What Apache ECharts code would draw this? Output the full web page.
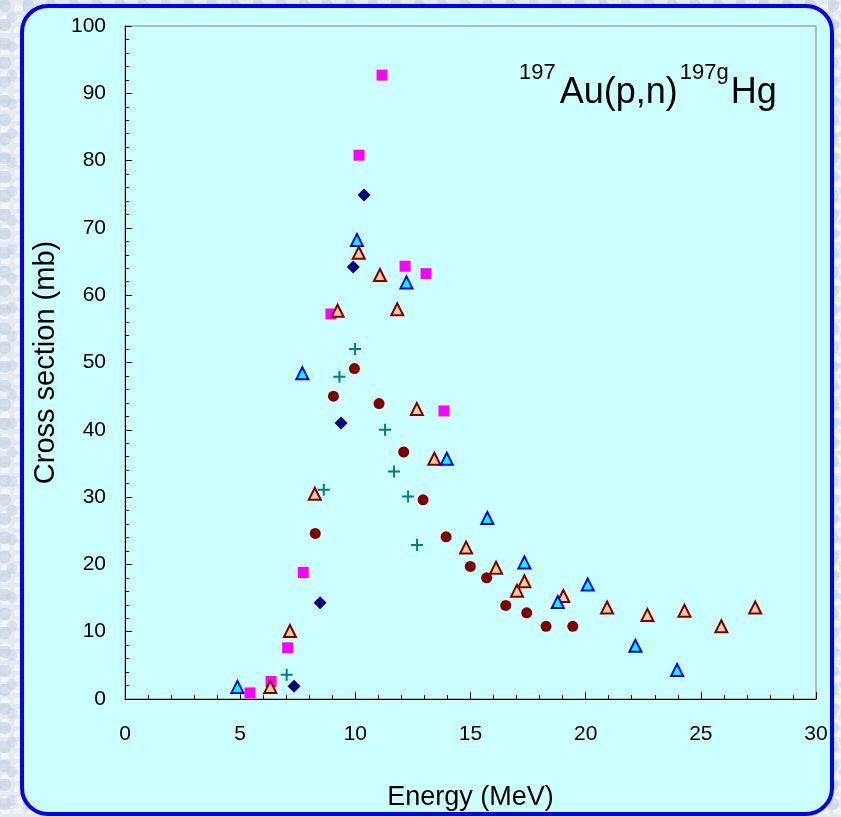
<!DOCTYPE html>
<html>
<head>
<meta charset="utf-8">
<script src="https://cdn.jsdelivr.net/npm/echarts@6/dist/echarts.min.js"></script>
<style>
  html, body { margin: 0; padding: 0; }
  body {
    width: 841px; height: 817px; overflow: hidden;
    background-color: #e3eaf2;
    background-image:
      radial-gradient(circle at 20% 30%, rgba(190,205,222,0.55) 0 6px, transparent 7px),
      radial-gradient(circle at 70% 60%, rgba(200,212,228,0.5) 0 5px, transparent 6px),
      radial-gradient(circle at 40% 80%, rgba(245,248,252,0.8) 0 4px, transparent 5px);
    background-size: 23px 19px, 17px 29px, 13px 11px;
  }
  #chart { width: 841px; height: 817px; }
</style>
</head>
<body>
<div id="chart"></div>
<script>
// Energy (MeV) / cross section (mb) pairs, one list per measurement set
const squareEnergy = [5.43, 6.34, 7.06, 7.74, 8.94, 10.16, 11.16, 12.16, 13.07, 13.85];
const squareXs     = [0.9, 2.6, 7.6, 18.8, 57.2, 80.8, 92.7, 64.3, 63.2, 42.8];

const diamondEnergy = [7.34, 8.47, 9.38, 9.91, 10.38];
const diamondXs     = [1.9, 14.3, 41.0, 64.2, 74.9];

const plusEnergy = [7.02, 8.63, 9.31, 9.99, 11.29, 11.68, 12.29, 12.68];
const plusXs     = [3.6, 31.1, 47.9, 52.0, 40.0, 33.8, 30.1, 22.9];

const circleEnergy = [8.26, 9.05, 9.96, 11.03, 12.10, 12.94, 13.94, 14.99, 15.70, 16.53, 17.44, 18.28, 19.44];
const circleXs     = [24.6, 45.0, 49.1, 43.9, 36.7, 29.6, 24.1, 19.7, 18.0, 13.9, 12.8, 10.8, 10.8];

const orangeTriEnergy = [6.31, 7.16, 8.24, 9.23, 10.15, 11.07, 11.82, 12.67, 13.43, 14.81, 16.11, 17.02, 17.34, 19.03, 20.93, 22.68, 24.29, 25.89, 27.36];
const orangeTriXs     = [1.8, 10.1, 30.5, 57.7, 66.3, 63.0, 57.9, 43.1, 35.7, 22.5, 19.5, 16.1, 17.5, 15.3, 13.6, 12.5, 13.1, 10.8, 13.6];

const cyanTriEnergy = [4.88, 7.70, 10.07, 12.22, 13.97, 15.73, 17.34, 18.79, 20.09, 22.16, 23.97];
const cyanTriXs     = [1.8, 48.4, 68.2, 61.9, 35.7, 26.9, 20.3, 14.4, 17.0, 7.9, 4.3];

// axis ranges and tick labels
const xTicks = [0, 5, 10, 15, 20, 25, 30];
const yTicks = [0, 10, 20, 30, 40, 50, 60, 70, 80, 90, 100];

const pairs = (xs, ys) => xs.map((x, i) => [x, ys[i]]);
const FONT = '"Liberation Sans", Arial, sans-serif';
const PLUS = 'path://M5,0H7V5H12V7H7V12H5V7H0V5H5Z';

const chart = echarts.init(document.getElementById('chart'), null, { renderer: 'canvas' });

chart.setOption({
  animation: false,
  backgroundColor: 'transparent',
  graphic: [
    {
      type: 'rect', z: -10, silent: true,
      shape: { x: 22, y: 6, width: 810, height: 808, r: 26 },
      style: { fill: '#CCFFFF', stroke: '#0000FF', lineWidth: 4 }
    },
    {
      // reaction label with mass-number superscripts
      type: 'text', z: 50, left: 519, top: 62,
      style: {
        text: '{sup|197}{gap1|}{base|Au(p,n)}{gap2|}{sup|197g}{gap2|}{base|Hg}',
        rich: {
          sup: { fontFamily: FONT, fontSize: 22, lineHeight: 22, fill: '#000', verticalAlign: 'top' },
          base: { fontFamily: FONT, fontSize: 36, lineHeight: 49, fill: '#000', verticalAlign: 'bottom' },
          gap1: { width: 4, lineHeight: 10 },
          gap2: { width: 2, lineHeight: 10 }
        }
      }
    }
  ],
  grid: {
    left: 125, top: 26, right: 25, bottom: 118,
    show: true, borderColor: '#808080', borderWidth: 1, backgroundColor: 'transparent'
  },
  xAxis: {
    type: 'value', min: xTicks[0], max: xTicks[xTicks.length - 1], interval: 5,
    name: 'Energy (MeV)', nameLocation: 'middle', nameGap: 85,
    nameTextStyle: { fontFamily: FONT, fontSize: 27, color: '#000' },
    axisLine: { show: true, onZero: false, lineStyle: { color: '#000', width: 1 } },
    axisTick: { show: true, inside: true, length: 7, lineStyle: { color: '#000' } },
    minorTick: { show: true, splitNumber: 5, length: 4, lineStyle: { color: '#000' } },
    splitLine: { show: false },
    axisLabel: { fontFamily: FONT, fontSize: 21, color: '#000', margin: 25 }
  },
  yAxis: {
    type: 'value', min: yTicks[0], max: yTicks[yTicks.length - 1], interval: 10,
    name: 'Cross section (mb)', nameLocation: 'middle', nameGap: 63, nameRotate: 90,
    nameTextStyle: { fontFamily: FONT, fontSize: 29, color: '#000' },
    axisLine: { show: true, onZero: false, lineStyle: { color: '#000', width: 1 } },
    axisTick: { show: true, inside: true, length: 7, lineStyle: { color: '#000' } },
    minorTick: { show: true, splitNumber: 5, length: 4, lineStyle: { color: '#000' } },
    splitLine: { show: false },
    axisLabel: { fontFamily: FONT, fontSize: 21, color: '#000', margin: 19 }
  },
  series: [
    {
      type: 'scatter', name: 'squares', symbol: 'rect', symbolSize: 11,
      itemStyle: { color: '#FF00FF', opacity: 1 },
      data: pairs(squareEnergy, squareXs)
    },
    {
      type: 'scatter', name: 'diamonds', symbol: 'diamond', symbolSize: 13,
      itemStyle: { color: '#000080', opacity: 1 },
      data: pairs(diamondEnergy, diamondXs)
    },
    {
      type: 'scatter', name: 'crosses', symbol: PLUS, symbolSize: 12,
      itemStyle: { color: '#008080', opacity: 1 },
      data: pairs(plusEnergy, plusXs)
    },
    {
      type: 'scatter', name: 'circles', symbol: 'circle', symbolSize: 11,
      itemStyle: { color: '#800000', opacity: 1 },
      data: pairs(circleEnergy, circleXs)
    },
    {
      type: 'scatter', name: 'orange triangles', symbol: 'triangle', symbolSize: [12, 12],
      itemStyle: { color: '#FFCC99', borderColor: '#800000', borderWidth: 2, opacity: 1 },
      data: pairs(orangeTriEnergy, orangeTriXs)
    },
    {
      type: 'scatter', name: 'cyan triangles', symbol: 'triangle', symbolSize: [12, 12],
      itemStyle: { color: '#00FFFF', borderColor: '#0000FF', borderWidth: 2, opacity: 1 },
      data: pairs(cyanTriEnergy, cyanTriXs)
    }
  ]
});
</script>
</body>
</html>
